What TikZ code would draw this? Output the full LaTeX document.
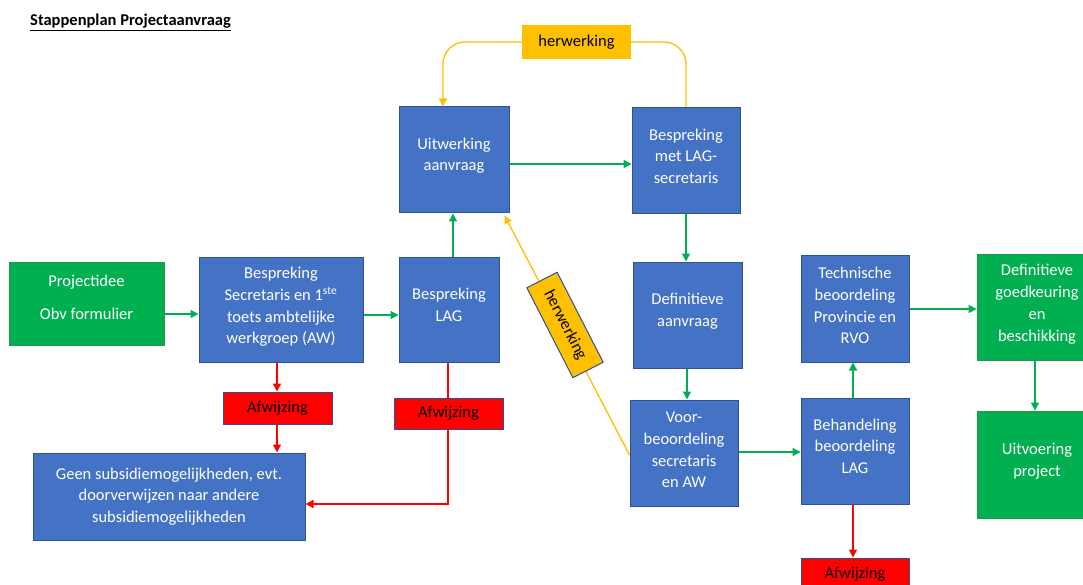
\documentclass[tikz,border=0pt]{standalone}
\usepackage{fontspec}
\setmainfont{Carlito}
\usetikzlibrary{arrows.meta,backgrounds}
\definecolor{bluebox}{HTML}{4472C4}
\definecolor{blueline}{HTML}{2F528F}
\definecolor{greenbox}{HTML}{00B050}
\definecolor{greenedge}{HTML}{1E9A4A}
\definecolor{redbox}{HTML}{FF0000}
\definecolor{orangebox}{HTML}{FFC000}
\begin{document}
\begin{tikzpicture}[x=1pt,y=-1pt,
  every node/.style={font=\fontsize{16.5}{21.7}\selectfont, align=center, inner sep=0pt},
  bbox/.style={rectangle, fill=bluebox, draw=blueline, line width=1pt, text=white},
  gbox/.style={rectangle, fill=greenbox, draw=greenedge, line width=0.8pt, text=white},
  rbox/.style={rectangle, fill=redbox, draw=blueline, line width=1pt, text=black},
  obox/.style={rectangle, fill=orangebox, text=black},
  sz/.style 2 args={minimum width=#1pt, minimum height=#2pt},
  ga/.style={draw=greenbox, line width=1.3pt, -{Triangle[length=8pt,width=8pt]}},
  ra/.style={draw=redbox, line width=1.3pt, -{Triangle[length=8pt,width=8pt]}},
  ya/.style={draw=orangebox, line width=1.3pt, -{Triangle[length=8pt,width=8pt]}}
]
\clip (0,0) rectangle (1083,585);

\node[font=\fontsize{16.5}{20}\selectfont\bfseries, anchor=base west] (title) at (30,26) {\underline{Stappenplan Projectaanvraag}};

\node[gbox, sz={155}{83}, text depth=12pt] (proj) at (86.5,303.5) {Projectidee\\[11.3pt]Obv formulier};
\node[bbox, sz={164}{105}, text depth=8pt] (sec) at (281,309.5) {Bespreking\\Secretaris en 1\textsuperscript{ste}\\toets ambtelijke\\werkgroep (AW)};
\node[bbox, sz={100}{105}, text depth=10pt] (blag) at (449,309.5) {Bespreking\\LAG};
\node[bbox, sz={110}{106}, text depth=11.5pt] (uitw) at (454,160) {Uitwerking\\aanvraag};
\node[bbox, sz={108}{106}, text depth=10pt] (bmet) at (686,161) {Bespreking\\met LAG-\\secretaris};
\node[obox, sz={109}{34}] (herwtop) at (576.5,42) {herwerking};
\node[bbox, sz={109}{106}, text depth=10.5pt] (defa) at (687.5,315) {Definitieve\\aanvraag};
\node[bbox, sz={108}{106}, text depth=6pt] (voor) at (684,453) {Voor-\\beoordeling\\secretaris\\en AW};
\node[bbox, sz={108}{106}, text depth=10pt] (beh) at (855,451) {Behandeling\\beoordeling\\LAG};
\node[bbox, sz={108}{107}, text depth=6pt] (tech) at (855,308.5) {Technische\\beoordeling\\Provincie en\\RVO};
\node[gbox, sz={120}{106}, text depth=8.5pt] (defg) at (1037,307) {Definitieve\\goedkeuring\\en\\beschikking};
\node[gbox, sz={120}{107}, text depth=9.5pt] (uitv) at (1037,464.5) {Uitvoering\\project};
\node[rbox, sz={108}{32}] (afw3) at (855,574) {Afwijzing};
\node[rbox, sz={109}{32}] (afw1) at (277.5,408) {Afwijzing};
\node[rbox, sz={109}{31}] (afw2) at (448.5,413.5) {Afwijzing};
\node[bbox, sz={272}{87}] (geen) at (169,496.5) {Geen subsidiemogelijkheden, evt.\\doorverwijzen naar andere\\subsidiemogelijkheden};
\node[obox, draw=blueline, line width=1pt, sz={101}{34}, rotate=-62.9] (herwdiag) at (565,325) {herwerking};

\begin{pgfonlayer}{background}
\fill[white] (0,0) rectangle (1083,585);
\draw[ga] (proj.east |- 0,314) -- (sec.west |- 0,314);
\draw[ga] (sec.east |- 0,315) -- (blag.west |- 0,315);
\draw[ga] (blag.north -| 453,0) -- (uitw.south -| 453,0);
\draw[ga] (uitw.east |- 0,164) -- (bmet.west |- 0,164);
\draw[ga] (bmet.south -| 686,0) -- (defa.north -| 686,0);
\draw[ga] (defa.south -| 687,0) -- (voor.north -| 687,0);
\draw[ga] (voor.east |- 0,452) -- (beh.west |- 0,452);
\draw[ga] (beh.north -| 853,0) -- (tech.south -| 853,0);
\draw[ga] (tech.east |- 0,309) -- (defg.west |- 0,309);
\draw[ga] (defg.south -| 1035,0) -- (uitv.north -| 1035,0);
\draw[ra] (sec.south -| 277,0) -- (afw1.north -| 277,0);
\draw[ra] (afw1.south -| 277,0) -- (geen.north -| 277,0);
\draw[ra] (blag.south -| 448,0) |- (geen.east |- 0,504);
\draw[ra] (beh.south -| 853,0) -- (afw3.north -| 853,0);
\draw[ya, rounded corners=22pt] (bmet.north -| 686,0) |- (herwtop.center) -| (uitw.north -| 443,0);
\draw[ya] (voor.west |- 0,455) -- ([xshift=-5pt,yshift=-2pt]uitw.south east);
\end{pgfonlayer}
\end{tikzpicture}
\end{document}
